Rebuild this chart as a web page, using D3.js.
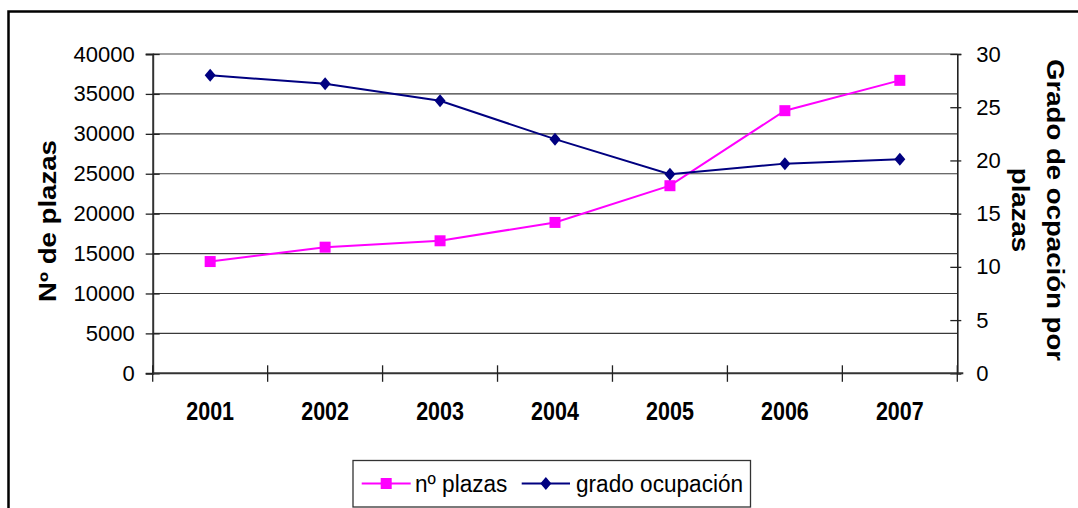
<!DOCTYPE html>
<html>
<head>
<meta charset="utf-8">
<script src="https://cdn.jsdelivr.net/npm/d3@7"></script>
<style>
  html, body { margin: 0; padding: 0; background: #fff; }
  svg { display: block; font-family: "Liberation Sans", Arial, sans-serif; }
</style>
</head>
<body>
<svg id="chart" width="1078" height="508"></svg>
<script>
const years = ["2001", "2002", "2003", "2004", "2005", "2006", "2007"];
const plazas = [14000, 15800, 16600, 18900, 23500, 32900, 36700];
const grado = [28.0, 27.2, 25.6, 22.0, 18.7, 19.7, 20.1];
const leftTicks = [0, 5000, 10000, 15000, 20000, 25000, 30000, 35000, 40000];
const rightTicks = [0, 5, 10, 15, 20, 25, 30];
const seriesNames = ["nº plazas", "grado ocupación"];
const leftTitle = "Nº de plazas";
const rightTitleLines = ["Grado de ocpación por", "plazas"];

const svg = d3.select("#chart");
const L = 152.7, R = 957.3, T = 54, B = 373.3;
const pink = "#FF00FF", navy = "#000080";

// outer border
svg.append("rect").attr("x", 8.5).attr("y", 11.5).attr("width", 1200).attr("height", 600)
  .attr("fill", "none").attr("stroke", "#000").attr("stroke-width", 2.5);

const x = d3.scaleBand().domain(years).range([L, R]).padding(0);
const yL = d3.scaleLinear().domain([0, 40000]).range([B, T]);
const yR = d3.scaleLinear().domain([0, 30]).range([B, T]);
const cx = d => x(d) + x.bandwidth() / 2;

// gridlines
svg.append("g").selectAll("line").data(leftTicks.filter(v => v > 0)).join("line")
  .attr("x1", L).attr("x2", R)
  .attr("y1", d => yL(d)).attr("y2", d => yL(d))
  .attr("stroke", d => d === 40000 ? "#a0a0a0" : "#3a3a3a")
  .attr("stroke-width", d => d === 40000 ? 2 : 1.2);

// left axis
const gL = svg.append("g").attr("transform", `translate(${L},0)`)
  .call(d3.axisLeft(yL).tickValues(leftTicks).tickSize(7).tickPadding(11).tickFormat(d3.format("d")));
gL.select(".domain").attr("stroke", "#333").attr("stroke-width", 2);
gL.selectAll(".tick line").attr("x1", -7).attr("x2", 7).attr("stroke", "#222").attr("stroke-width", 1.3);
gL.selectAll(".tick text").attr("font-size", 22).attr("fill", "#000")
  .attr("font-family", "Liberation Sans, Arial, sans-serif");

// right axis
const gR = svg.append("g").attr("transform", `translate(${R},0)`)
  .call(d3.axisRight(yR).tickValues(rightTicks).tickSize(4).tickPadding(15).tickFormat(d3.format("d")));
gR.select(".domain").attr("stroke", "#222").attr("stroke-width", 1.6);
gR.selectAll(".tick line").attr("x1", -7).attr("x2", 4).attr("stroke", "#222").attr("stroke-width", 1.3);
gR.selectAll(".tick text").attr("font-size", 22).attr("fill", "#000")
  .attr("font-family", "Liberation Sans, Arial, sans-serif");

// bottom axis
const bounds = years.map(d => x(d)).concat([R]);
const gB = svg.append("g");
gB.append("line").attr("x1", L).attr("x2", R + 6).attr("y1", B).attr("y2", B)
  .attr("stroke", "#333").attr("stroke-width", 2);
gB.selectAll("line.tk").data(bounds).join("line").attr("class", "tk")
  .attr("x1", d => d).attr("x2", d => d).attr("y1", B - 8).attr("y2", B + 8.5)
  .attr("stroke", "#222").attr("stroke-width", 1.3);
gB.selectAll("text").data(years).join("text")
  .attr("transform", d => `translate(${cx(d)},${B + 38.5}) scale(1,1.2)`)
  .attr("text-anchor", "middle").attr("dominant-baseline", "central")
  .attr("font-size", 21.5).attr("font-weight", "bold").text(d => d);

// lines
const lineP = d3.line().x((d, i) => cx(years[i])).y(d => yL(d));
const lineG = d3.line().x((d, i) => cx(years[i])).y(d => yR(d));
svg.append("path").datum(plazas).attr("d", lineP).attr("fill", "none").attr("stroke", pink).attr("stroke-width", 2);
svg.append("path").datum(grado).attr("d", lineG).attr("fill", "none").attr("stroke", navy).attr("stroke-width", 2);

const sq = 11, dm = 6;
const diamond = (px, py) => `M${px},${py - dm - 0.5}L${px + dm - 0.5},${py}L${px},${py + dm + 0.5}L${px - dm + 0.5},${py}Z`;
svg.append("g").selectAll("rect").data(plazas).join("rect")
  .attr("x", (d, i) => cx(years[i]) - sq / 2).attr("y", d => yL(d) - sq / 2)
  .attr("width", sq).attr("height", sq).attr("fill", pink);
svg.append("g").selectAll("path").data(grado).join("path")
  .attr("d", (d, i) => diamond(cx(years[i]), yR(d))).attr("fill", navy);

// axis titles
svg.append("text").attr("transform", "translate(56,221) rotate(-90) scale(1.2,1)")
  .attr("text-anchor", "middle").attr("font-size", 23).attr("font-weight", "bold").text(leftTitle);
const rt = svg.append("g").attr("transform", "translate(1046.5,210) rotate(90) scale(1.2,1)");
rt.selectAll("text").data(rightTitleLines).join("text")
  .attr("x", 0).attr("y", (d, i) => i * 35)
  .attr("text-anchor", "middle").attr("font-size", 23).attr("font-weight", "bold").text(d => d);

// legend
const lg = svg.append("g");
lg.append("rect").attr("x", 353).attr("y", 460.5).attr("width", 397.5).attr("height", 46.5)
  .attr("fill", "#fff").attr("stroke", "#333").attr("stroke-width", 1.3);
const items = [
  { name: seriesNames[0], color: pink, x0: 361.7, x1: 410.7, tx: 415, shape: "sq" },
  { name: seriesNames[1], color: navy, x0: 521.7, x1: 570, tx: 576, shape: "dm" }
];
const ly = 483.5;
items.forEach(it => {
  lg.append("line").attr("x1", it.x0).attr("x2", it.x1).attr("y1", ly).attr("y2", ly)
    .attr("stroke", it.color).attr("stroke-width", 2);
  const mx = (it.x0 + it.x1) / 2;
  if (it.shape === "sq") {
    lg.append("rect").attr("x", mx - sq / 2).attr("y", ly - sq / 2).attr("width", sq).attr("height", sq).attr("fill", it.color);
  } else {
    lg.append("path").attr("d", diamond(mx, ly)).attr("fill", it.color);
  }
  lg.append("text").attr("transform", `translate(${it.tx},${ly}) scale(1,1.08)`)
    .attr("dominant-baseline", "central")
    .attr("font-size", 22.6).text(it.name);
});
</script>
</body>
</html>
